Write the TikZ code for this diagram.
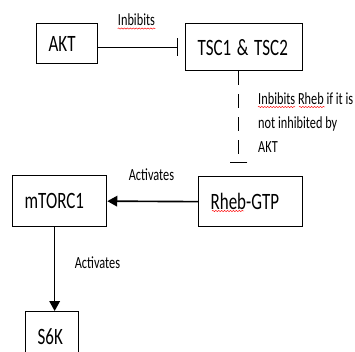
\documentclass[tikz,border=0pt]{standalone}
\usepackage{fontspec}
\setmainfont{Carlito}
\usetikzlibrary{arrows.meta,decorations.pathmorphing}
\newcommand\tall[1]{\scalebox{1}[1.38]{#1}}
\tikzset{
  box/.style={draw, line width=1.1pt, anchor=north west, inner xsep=0.36cm, inner ysep=0pt, align=left, font=\fontsize{14.5}{17}\selectfont},
  lbl/.style={inner sep=0pt, font=\fontsize{10.5}{20.4}\selectfont},
  inh/.style={line width=1.1pt, -{Bar[width=15pt,line width=1.1pt]}},
  act/.style={line width=1.4pt, -{Triangle[length=8.5pt,width=9pt]}},
  spell/.style={red, line width=0.4pt, decorate, decoration={snake, amplitude=0.5pt, segment length=2.5pt}}
}
\begin{document}
\begin{tikzpicture}[x=0.03cm, y=-0.03cm]
  \path[use as bounding box, clip] (0,0) rectangle (355,351);
  % proteins, placed at their top left corners
  \node[box, text width=1.11cm, minimum height=1.2cm] (AKT) at (36,23) {\tall{AKT}};
  \node[box, text width=2.79cm, minimum height=1.41cm] (TSC) at (185,23) {\tall{TSC1 \& TSC2}};
  \node[box, text width=2.40cm, minimum height=1.5cm] (Rheb) at (198,176) {\tall{Rheb-GTP}};
  \node[box, text width=2.10cm, minimum height=1.53cm] (mTORC1) at (12,175) {\tall{mTORC1}};
  \node[box, text width=0.87cm, minimum height=1.5cm] (S6K) at (25,311) {\tall{S6K}};

  % connectors
  \draw[inh, shorten >=0.21cm] (AKT.east |- TSC.west) -- (TSC.west);
  \draw[inh, dash pattern=on 0.42cm off 0.27cm, shorten >=0.39cm] ([xshift=-0.165cm]TSC.south) -- ([xshift=-0.165cm]TSC.south |- Rheb.north);
  \draw[act] (Rheb.west) -- (mTORC1.east);
  \draw[act] ([xshift=-0.15cm]mTORC1.south) -- ([xshift=-0.15cm]mTORC1.south |- S6K.north);

  % labels
  \node[lbl] (inb) at (136.5,20) {\tall{Inbibits}};
  \node[lbl] (act1) at (151.5,175) {\tall{Activates}};
  \node[lbl] (act2) at (97.5,263) {\tall{Activates}};
  \node[lbl, anchor=west, align=left] (note) at (258,123) {\tall{Inbibits Rheb if it is}\\\tall{not inhibited by}\\\tall{AKT}};

  % spell check marks
  \draw[spell] ([yshift=-2pt]inb.south west) -- ([yshift=-2pt]inb.south east);
  \draw[spell] (258,107) -- (295,107);
  \draw[spell] (299,107) -- (325,107);
  \draw[spell] (212,211) -- (244,211);
\end{tikzpicture}
\end{document}
